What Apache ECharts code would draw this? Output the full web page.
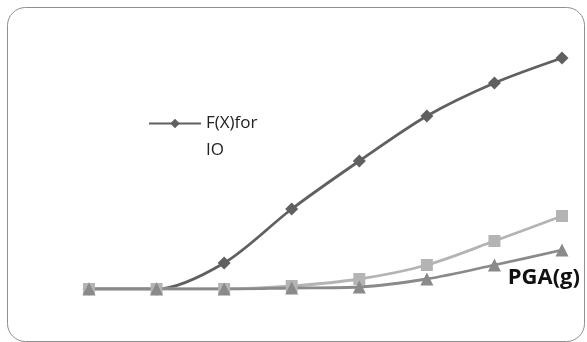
<!DOCTYPE html>
<html><head><meta charset="utf-8">
<script src="https://cdn.jsdelivr.net/npm/echarts@6/dist/echarts.min.js"></script>
<style>html,body{margin:0;padding:0;background:#fff}#c{width:587px;height:342px}</style>
</head><body><div id="c"></div>
<script>
const categories = ['1','2','3','4','5','6','7','8'];
const seriesIO = [0, 0, 0.104, 0.32, 0.512, 0.692, 0.824, 0.924];
const seriesLS = [0, 0, 0, 0.012, 0.04, 0.096, 0.192, 0.292];
const seriesCP = [0, 0, 0, 0.004, 0.008, 0.04, 0.096, 0.156];
const legendName = 'F(X)for IO';
const xAxisName = 'PGA(g)';

const chart = echarts.init(document.getElementById('c'), null, {renderer: 'canvas'});
chart.setOption({
  animation: false,
  backgroundColor: '#fff',
  graphic: [{
    type: 'rect', left: 5, top: 5,
    shape: {width: 577, height: 334, r: 18},
    style: {fill: 'none', stroke: '#8f8f8f', lineWidth: 1}
  }],
  grid: {left: 89, right: 25, top: 39, bottom: 53},
  legend: {
    data: [legendName],
    left: 148, top: 83, padding: 0,
    itemWidth: 52, itemHeight: 12,
    itemGap: 0,
    formatter: function () { return ' \nF(X)for\nIO'; },
    textStyle: {fontFamily: 'Open Sans', fontSize: 17, color: '#222', lineHeight: 27}
  },
  xAxis: {
    type: 'category', data: categories, boundaryGap: false,
    axisLine: {show: false}, axisTick: {show: false}, axisLabel: {show: false}, splitLine: {show: false},
    name: xAxisName, nameLocation: 'end', nameGap: 18,
    nameTextStyle: {fontFamily: 'Open Sans', fontWeight: 'bold', fontSize: 22, color: '#111', align: 'right', verticalAlign: 'bottom', padding: [0, 0, 0, 0]}
  },
  yAxis: {
    type: 'value', min: 0, max: 1,
    axisLine: {show: false}, axisTick: {show: false}, axisLabel: {show: false}, splitLine: {show: false}
  },
  series: [
    {name: legendName, type: 'line', data: seriesIO, smooth: 0.3, symbol: 'diamond', symbolSize: 13,
     lineStyle: {color: '#606060', width: 2.8}, itemStyle: {color: '#606060'}},
    {name: 'S2', type: 'line', data: seriesLS, smooth: 0.3, symbol: 'rect', symbolSize: 12,
     lineStyle: {color: '#b4b4b4', width: 2.8}, itemStyle: {color: '#b4b4b4'}},
    {name: 'S3', type: 'line', data: seriesCP, smooth: 0.3, symbol: 'triangle', symbolSize: 13,
     lineStyle: {color: '#8a8a8a', width: 2.8}, itemStyle: {color: '#8a8a8a'}}
  ]
});
</script></body></html>
